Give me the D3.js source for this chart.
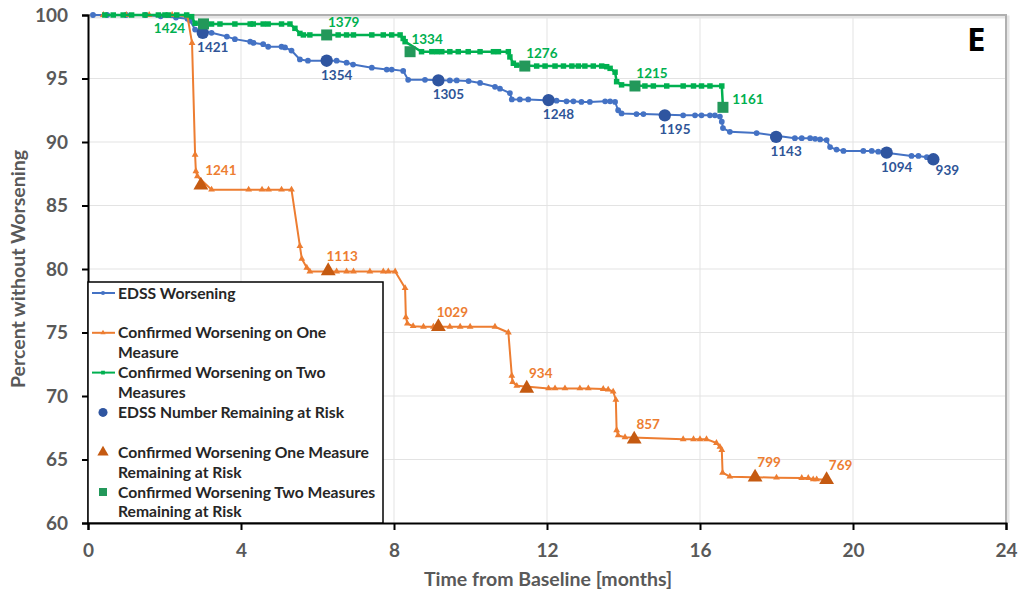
<!DOCTYPE html>
<html>
<head>
<meta charset="utf-8">
<script src="https://cdn.jsdelivr.net/npm/d3@7"></script>
<style>
  body { margin: 0; background: #fff; }
  svg text { font-family: Lato, "Open Sans", sans-serif; }
</style>
</head>
<body>
<div id="chart"></div>
<script>
// EDSS worsening (blue)
const edssMonths = [0.13, 0.5, 1.0, 1.5, 1.9, 2.3, 2.6, 2.67, 2.8, 3.23, 3.63, 3.84, 4.24, 4.33, 4.58, 4.71, 5.06, 5.15, 5.32, 5.54, 5.75, 6.5, 6.76, 6.93, 7.42, 7.81, 7.94, 8.24, 8.37, 8.81, 9.46, 9.64, 9.95, 10.25, 10.64, 10.77, 11.03, 11.08, 11.29, 11.51, 12.25, 12.51, 12.69, 12.9, 13.12, 13.52, 13.65, 13.78, 13.86, 13.95, 14.34, 14.52, 15.56, 15.87, 16.04, 16.26, 16.39, 16.52, 16.57, 16.6, 16.78, 17.48, 18.48, 18.66, 18.88, 19.01, 19.14, 19.31, 19.4, 19.57, 19.75, 20.27, 20.49, 20.66, 21.53, 21.71, 21.93, 22.1];
const edssPct = [100, 100, 100, 100, 99.9, 99.8, 99.7, 99.55, 98.85, 98.6, 98.3, 98.1, 97.9, 97.8, 97.7, 97.5, 97.5, 97.45, 97.2, 96.5, 96.4, 96.4, 96.25, 96.1, 95.85, 95.7, 95.7, 95.6, 94.9, 94.9, 94.85, 94.85, 94.8, 94.65, 94.35, 94.2, 93.85, 93.35, 93.35, 93.35, 93.25, 93.2, 93.2, 93.15, 93.15, 93.2, 93.2, 93.15, 92.5, 92.25, 92.2, 92.2, 92.1, 92.1, 92.1, 92.1, 92.1, 92.0, 91.6, 91.1, 90.8, 90.7, 90.3, 90.3, 90.3, 90.25, 90.2, 90.15, 89.6, 89.4, 89.3, 89.3, 89.3, 89.24, 88.9, 88.9, 88.8, 88.64];

// Confirmed worsening on one measure (orange)
const oneMonths = [0.4, 1.0, 1.6, 2.2, 2.6, 2.72, 2.8, 2.82, 2.86, 3.23, 4.2, 4.55, 4.72, 5.06, 5.32, 5.54, 5.59, 5.72, 5.8, 6.5, 6.76, 6.94, 7.37, 7.72, 7.85, 8.03, 8.29, 8.31, 8.35, 8.5, 8.77, 9.03, 9.46, 9.73, 9.99, 10.64, 10.99, 11.08, 11.1, 11.21, 12.04, 12.21, 12.47, 12.86, 13.08, 13.47, 13.6, 13.73, 13.8, 13.82, 13.86, 14.04, 15.56, 15.83, 16.0, 16.17, 16.43, 16.52, 16.57, 16.59, 16.78, 18.0, 18.66, 18.83, 18.96, 19.05, 19.31];
const onePct = [100, 100, 100, 100, 99.9, 97.8, 89.0, 87.7, 87.3, 86.25, 86.25, 86.25, 86.25, 86.25, 86.25, 81.8, 80.8, 80.1, 79.8, 79.8, 79.8, 79.8, 79.8, 79.8, 79.8, 79.8, 78.5, 76.2, 75.7, 75.5, 75.45, 75.45, 75.45, 75.45, 75.45, 75.45, 75.0, 71.6, 71.1, 70.8, 70.6, 70.6, 70.6, 70.6, 70.6, 70.55, 70.5, 70.35, 69.7, 67.3, 66.9, 66.75, 66.6, 66.6, 66.6, 66.6, 66.3, 66.0, 65.75, 63.96, 63.65, 63.57, 63.55, 63.55, 63.44, 63.44, 63.4];

// Confirmed worsening on two measures (green)
const twoMonths = [0.44, 0.66, 0.92, 1.14, 1.49, 1.84, 2.01, 2.1, 2.32, 2.58, 2.71, 2.8, 3.23, 3.45, 3.84, 4.24, 4.32, 4.58, 4.71, 5.06, 5.28, 5.41, 5.54, 5.63, 5.8, 6.54, 6.76, 6.94, 7.42, 7.72, 7.94, 8.16, 8.24, 8.29, 8.72, 8.99, 9.12, 9.25, 9.46, 9.68, 9.94, 10.25, 10.6, 10.73, 10.99, 11.03, 11.12, 11.21, 11.73, 11.95, 12.21, 12.43, 12.65, 12.82, 12.99, 13.21, 13.43, 13.56, 13.65, 13.78, 13.82, 13.95, 14.56, 14.78, 15.13, 15.56, 15.83, 16.04, 16.26, 16.57, 16.6];
const twoPct = [100, 100, 100, 100, 100, 100, 100, 100, 100, 100, 99.87, 99.35, 99.29, 99.29, 99.29, 99.29, 99.29, 99.29, 99.29, 99.29, 99.29, 98.95, 98.55, 98.43, 98.43, 98.43, 98.43, 98.43, 98.43, 98.43, 98.43, 98.43, 98.15, 97.9, 97.11, 97.11, 97.11, 97.11, 97.11, 97.11, 97.11, 97.11, 97.11, 97.11, 97.11, 96.7, 96.2, 96.05, 95.98, 95.98, 95.98, 95.98, 95.98, 95.98, 95.98, 95.98, 95.98, 95.93, 95.8, 95.5, 94.75, 94.5, 94.41, 94.41, 94.41, 94.41, 94.41, 94.41, 94.41, 94.41, 92.73];

// Number remaining at risk
const edssRiskMonths = [3.0, 6.24, 9.16, 12.04, 15.08, 17.99, 20.88, 22.1];
const edssRiskPct = [98.6, 96.4, 94.85, 93.3, 92.1, 90.4, 89.16, 88.64];
const edssRiskN = [1421, 1354, 1305, 1248, 1195, 1143, 1094, 939];

const oneRiskMonths = [2.95, 6.28, 9.16, 11.47, 14.28, 17.44, 19.31];
const oneRiskPct = [86.6, 79.85, 75.45, 70.6, 66.6, 63.6, 63.4];
const oneRiskN = [1241, 1113, 1029, 934, 857, 799, 769];

const twoRiskMonths = [3.02, 6.24, 8.42, 11.42, 14.3, 16.6];
const twoRiskPct = [99.3, 98.43, 97.11, 95.98, 94.41, 92.73];
const twoRiskN = [1424, 1379, 1334, 1276, 1215, 1161];

const xTicks = [0, 4, 8, 12, 16, 20, 24];
const yTicks = [60, 65, 70, 75, 80, 85, 90, 95, 100];

const legendItems = [
  ['EDSS Worsening'],
  ['Confirmed Worsening on One', 'Measure'],
  ['Confirmed Worsening on Two', 'Measures'],
  ['EDSS Number Remaining at Risk'],
  ['Confirmed Worsening One Measure', 'Remaining at Risk'],
  ['Confirmed Worsening Two Measures', 'Remaining at Risk']
];

const W = 1022, H = 597;
const margin = { top: 15, right: 16, bottom: 74, left: 88 };
const width = W - margin.left - margin.right;
const height = H - margin.top - margin.bottom;

const x = d3.scaleLinear().domain([0, 24]).range([0, width]);
const y = d3.scaleLinear().domain([60, 100]).range([height, 0]);

const svg = d3.select('#chart').append('svg')
  .attr('width', W).attr('height', H);
const g = svg.append('g').attr('transform', `translate(${margin.left},${margin.top})`);

// gridlines
g.append('g').selectAll('line').data(yTicks.slice(1, -1)).join('line')
  .attr('x1', 0).attr('x2', width)
  .attr('y1', d => y(d)).attr('y2', d => y(d))
  .attr('stroke', '#e3e3e3').attr('stroke-width', 1);
g.append('g').selectAll('line').data(xTicks.slice(1, -1)).join('line')
  .attr('x1', d => x(d)).attr('x2', d => x(d))
  .attr('y1', 0).attr('y2', height)
  .attr('stroke', '#e3e3e3').attr('stroke-width', 1);

// plot area border (top, right) with soft shadow
g.append('path')
  .attr('d', `M0,2 H${width + 2} V${height}`)
  .attr('fill', 'none').attr('stroke', '#e6e6e6').attr('stroke-width', 3);
g.append('path')
  .attr('d', `M0,0 H${width} V${height}`)
  .attr('fill', 'none').attr('stroke', '#b0b0b0').attr('stroke-width', 2);

const zip = (xs, ys) => xs.map((v, i) => [v, ys[i]]);
const line = d3.line().x(d => x(d[0])).y(d => y(d[1]));

const series = [
  { data: zip(edssMonths, edssPct), color: '#4472C4', sym: d3.symbolCircle, size: 26, w: 2 },
  { data: zip(oneMonths, onePct), color: '#ED7D31', sym: d3.symbolTriangle, size: 20, w: 2 },
  { data: zip(twoMonths, twoPct), color: '#00B050', sym: d3.symbolSquare, size: 30, w: 2.5 }
];

series.forEach(s => {
  g.append('path').datum(s.data)
    .attr('fill', 'none').attr('stroke', s.color)
    .attr('stroke-width', s.w).attr('stroke-linejoin', 'round')
    .attr('d', line);
  g.append('g').selectAll('path').data(s.data).join('path')
    .attr('transform', d => `translate(${x(d[0])},${y(d[1])})`)
    .attr('d', d3.symbol(s.sym, s.size))
    .attr('fill', s.color);
});

// at-risk markers and labels
const risk = [
  { m: edssRiskMonths, p: edssRiskPct, n: edssRiskN, sym: d3.symbolCircle, size: 120,
    fill: '#2F55A0', text: '#2F5597', dx: i => i === 7 ? 14 : 10, dy: i => i === 7 ? 16 : 19 },
  { m: oneRiskMonths, p: oneRiskPct, n: oneRiskN, sym: d3.symbolTriangle, size: 95,
    fill: '#C55A11', text: '#ED7D31', dx: i => i === 0 ? 20 : 14, dy: () => -10 },
  { m: twoRiskMonths, p: twoRiskPct, n: twoRiskN, sym: d3.symbolSquare, size: 121,
    fill: '#23985A', text: '#00B050', dx: i => i === 0 ? -34 : (i === 5 ? 25 : 17), dy: i => i === 0 ? 9 : (i === 5 ? -3 : -8) }
];

risk.forEach(r => {
  const pts = r.m.map((v, i) => ({ x: v, y: r.p[i], n: r.n[i], i }));
  g.append('g').selectAll('path').data(pts).join('path')
    .attr('transform', d => `translate(${x(d.x)},${y(d.y)})`)
    .attr('d', d3.symbol(r.sym, r.size))
    .attr('fill', r.fill);
  g.append('g').selectAll('text').data(pts).join('text')
    .attr('x', d => x(d.x) + r.dx(d.i))
    .attr('y', d => y(d.y) + r.dy(d.i))
    .attr('text-anchor', 'middle')
    .attr('font-size', 13.5).attr('font-weight', 700)
    .attr('fill', r.text)
    .text(d => d.n);
});

// axes
const xAxis = g.append('g').attr('transform', `translate(0,${height})`)
  .call(d3.axisBottom(x).tickValues(xTicks).tickSize(7).tickPadding(14));
const yAxis = g.append('g')
  .call(d3.axisLeft(y).tickValues(yTicks).tickSize(6).tickPadding(14));
[xAxis, yAxis].forEach(a => {
  a.select('.domain').attr('stroke', '#000').attr('stroke-width', 2);
  a.selectAll('.tick line').attr('stroke', '#000').attr('stroke-width', 2);
  a.selectAll('.tick text').attr('fill', '#595959')
    .attr('font-size', 19).attr('font-weight', 700)
    .style('font-family', 'Lato, sans-serif');
});

// legend
const lg = g.append('g').attr('transform', 'translate(0,267)');
lg.append('rect').attr('x', 0).attr('y', 0).attr('width', 295).attr('height', height - 267)
  .attr('fill', '#fff').attr('stroke', '#000').attr('stroke-width', 1.5);
const lgMarks = [
  { color: '#4472C4', sym: d3.symbolCircle, size: 14, line: true },
  { color: '#ED7D31', sym: d3.symbolTriangle, size: 12, line: true },
  { color: '#00B050', sym: d3.symbolSquare, size: 14, line: true },
  { color: '#2F55A0', sym: d3.symbolCircle, size: 64, line: false },
  { color: '#C55A11', sym: d3.symbolTriangle, size: 55, line: false },
  { color: '#23985A', sym: d3.symbolSquare, size: 64, line: false }
];
legendItems.forEach((lines, i) => {
  const cy = 11 + i * 39.8;
  const mk = lgMarks[i];
  if (mk.line) {
    lg.append('line').attr('x1', 4).attr('x2', 27).attr('y1', cy).attr('y2', cy)
      .attr('stroke', mk.color).attr('stroke-width', 2);
  }
  lg.append('path').attr('transform', `translate(15,${cy})`)
    .attr('d', d3.symbol(mk.sym, mk.size)).attr('fill', mk.color);
  lines.forEach((t, j) => {
    lg.append('text').attr('x', 30).attr('y', cy + j * 19.8 + 5.5)
      .attr('font-size', 15.7).attr('font-weight', 700).attr('fill', '#262626')
      .text(t);
  });
});

// panel letter
svg.append('text').attr('x', 967).attr('y', 51)
  .attr('font-size', 33).attr('font-weight', 700).attr('fill', '#000')
  .style('font-family', '"Open Sans", Lato, sans-serif')
  .text('E');

// axis titles
svg.append('text')
  .attr('transform', `translate(25,${margin.top + height / 2}) rotate(-90)`)
  .attr('text-anchor', 'middle')
  .attr('font-size', 19.5).attr('font-weight', 700).attr('fill', '#595959')
  .text('Percent without Worsening');
svg.append('text')
  .attr('x', 548).attr('y', 586)
  .attr('text-anchor', 'middle')
  .attr('font-size', 19.5).attr('font-weight', 700).attr('fill', '#595959')
  .text('Time from Baseline [months]');
</script>
</body>
</html>
